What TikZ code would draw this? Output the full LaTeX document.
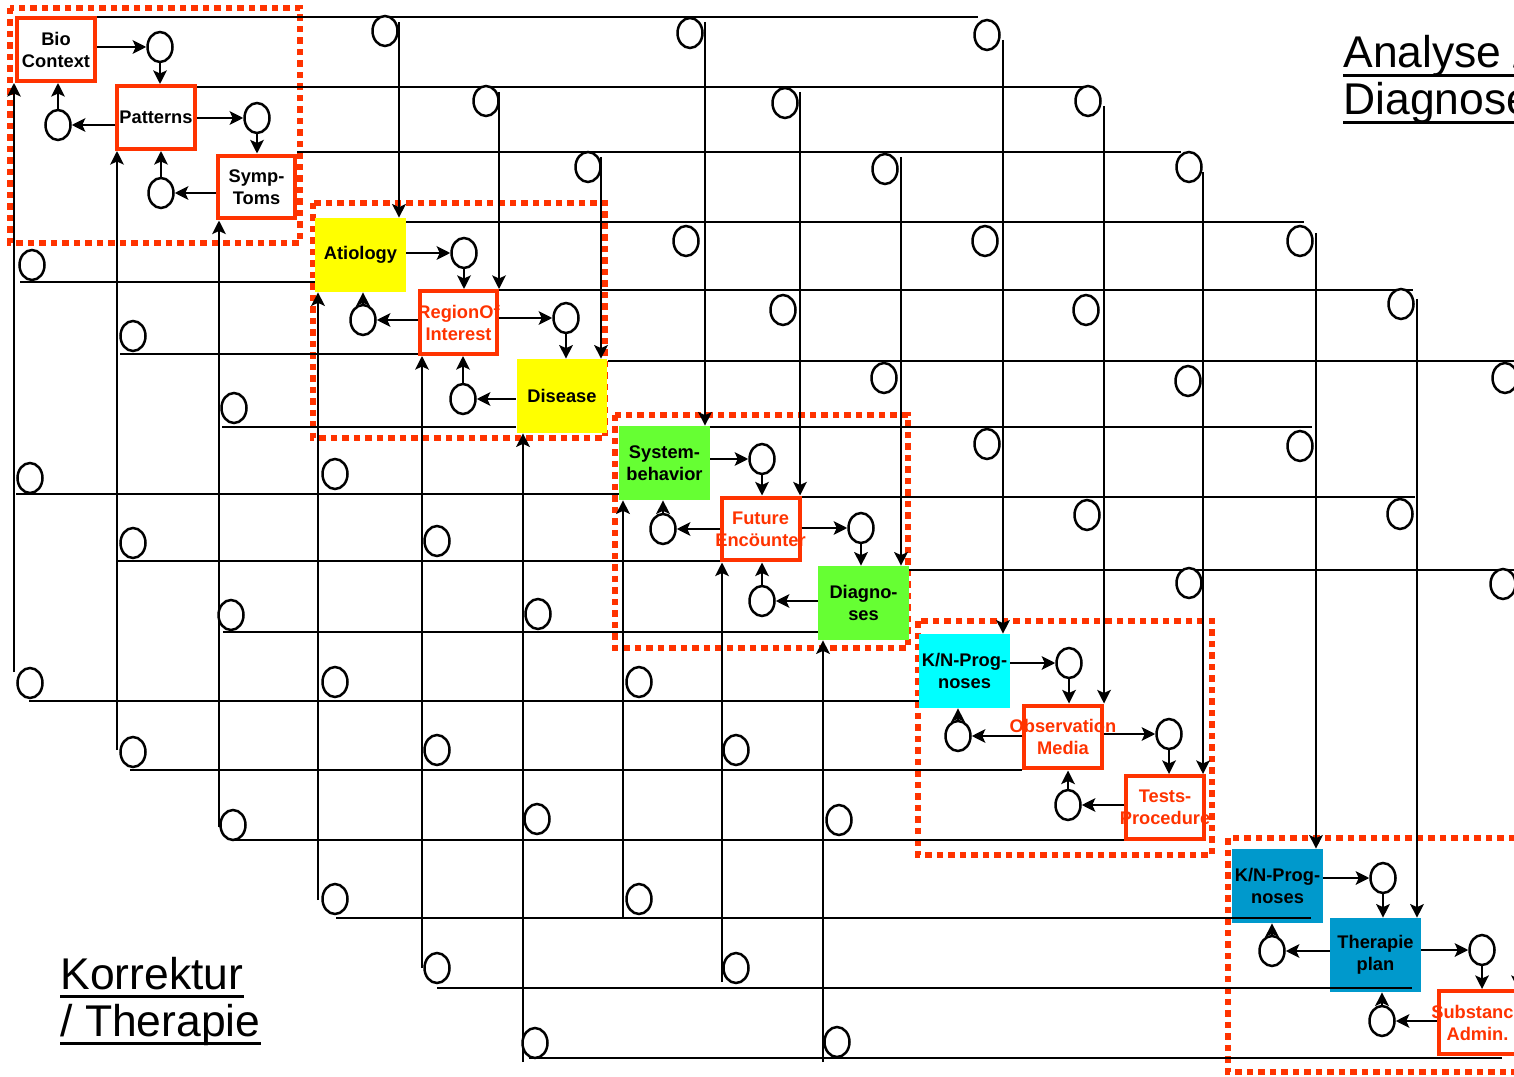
\documentclass[tikz,border=0pt]{standalone}
\usepackage{fontspec}
\setmainfont{Liberation Sans}
\usetikzlibrary{shapes.geometric, arrows.meta, positioning, calc}
\definecolor{myred}{RGB}{255,51,0}
\definecolor{myyellow}{RGB}{255,255,0}
\definecolor{mygreen}{RGB}{102,255,51}
\definecolor{mycyan}{RGB}{0,255,255}
\definecolor{myblue}{RGB}{0,153,204}
\newcommand{\boxfont}{\fontsize{10.4}{12.5}\selectfont\bfseries}
\newcommand{\titlefont}{\fontsize{25.3}{30}\selectfont}
\newcommand{\ctr}[1]{\makebox[0pt][c]{#1}}
\pgfdeclarelayer{bg}
\pgfsetlayers{bg,main}
\tikzset{
  redbox/.style={rectangle, draw=myred, fill=white, line width=0.08cm,
    text=myred, minimum width=1.56cm, minimum height=1.26cm,
    inner sep=0pt, align=center, font=\boxfont},
  colbox/.style={rectangle, minimum width=1.82cm, minimum height=1.48cm,
    inner sep=0pt, align=center, font=\boxfont},
  ring/.style={ellipse, draw, fill=white, line width=0.05cm,
    minimum width=0.5cm, minimum height=0.6cm, inner sep=0pt},
  arrow/.style={-{Stealth[length=0.27cm, width=0.27cm, inset=0.06cm]}, line width=0.052cm},
  wire/.style={line width=0.052cm},
  group/.style={draw=myred, line width=0.13cm, dash pattern=on 0.13cm off 0.1cm},
  title/.style={font=\titlefont, inner sep=0pt, anchor=base west},
  uline/.style={line width=0.06cm}
}

\begin{document}
\begin{tikzpicture}[x=0.02cm, y=-0.02cm]
  \useasboundingbox (0,0) rectangle (1514,1077);

  % Block 1
  \node[redbox, text=black] (bio) at (56,49.5) {Bio\\Context};
  \node[redbox, text=black] (pat) at (156,117.5) {Patterns};
  \node[redbox, text=black] (sym) at (256.5,187) {Symp-\\Toms};
  % Block 2
  \node[colbox, fill=myyellow] (ati) at (360.5,255) {Atiology};
  \node[redbox] (roi) at (458.5,322.5) {\ctr{RegionOf}\\\ctr{Interest}};
  \node[colbox, fill=myyellow] (dis) at (562,396) {Disease};
  % Block 3
  \node[colbox, fill=mygreen] (sys) at (664.5,463) {System-\\behavior};
  \node[redbox] (fut) at (760.5,529) {Future\\\ctr{Encöunter}};
  \node[colbox, fill=mygreen] (dia) at (863.5,603) {Diagno-\\ses};
  % Block 4
  \node[colbox, fill=mycyan] (kn4) at (964.5,671) {K/N-Prog-\\noses};
  \node[redbox] (obs) at (1063,737) {\ctr{Observation}\\Media};
  \node[redbox] (tes) at (1165,807.5) {Tests-\\\ctr{Procedure}};
  % Block 5
  \node[colbox, fill=myblue] (kn5) at (1277.5,886) {K/N-Prog-\\noses};
  \node[colbox, fill=myblue] (the) at (1375.5,955) {Therapie\\plan};
  \node[redbox] (sub) at (1477.5,1022.5) {\ctr{Substance}\\Admin.};

  \begin{pgfonlayer}{bg}
    % dotted frames round the blocks
    \draw[group] (10,8) rectangle (300,243);
    \draw[group] (313,203) rectangle (605,438);
    \draw[group] (615,415) rectangle (908,648);
    \draw[group] (918,621) rectangle (1212,855);
    \draw[group] (1228,838) rectangle (1540,1072);
    % Analyse lines
    \foreach \n/\y/\xb in {bio/17/978, pat/87/1085, sym/152/1181, ati/222/1304,
        roi/290/1413, dis/361/1530, sys/427/1312, fut/497/1415, dia/570/1530}
      \draw[wire] (\n.east |- 0,\y) -- (\xb,\y);
    % Korrektur lines
    \foreach \xa/\y/\n in {20/282/ati, 120/354/roi, 222/427/dis, 16/494/sys,
        118/561/fut, 223/632/dia, 29/701/kn4, 130/770/obs, 235/840/tes}
      \draw[wire] (\xa,\y) -- (\xa,\y -| \n.west);
  \end{pgfonlayer}

  % inside the blocks
  \foreach \a/\b/\c/\r/\pa/\pb/\pc/\pd in {
      bio/pat/sym/b1/{160,47}/{58,125}/{257,118}/{161,193},
      ati/roi/dis/b2/{464,253}/{363,320}/{566,318}/{463,399},
      sys/fut/dia/b3/{762,459}/{663,529}/{861,528}/{762,601},
      kn4/obs/tes/b4/{1069,663}/{958,736}/{1169,734}/{1068,805},
      kn5/the/sub/b5/{1383,878}/{1272,951}/{1482,950}/{1382,1021}} {
    \node[ring] (\r a) at (\pa) {};
    \node[ring] (\r b) at (\pb) {};
    \node[ring] (\r c) at (\pc) {};
    \node[ring] (\r d) at (\pd) {};
    \draw[arrow] (\a.east |- \r a) -- (\r a.west);
    \draw[arrow] (\r a.south) -- (\r a.south |- \b.north);
    \draw[arrow] (\b.west |- \r b) -- (\r b.east);
    \draw[arrow] (\r b.north) -- (\r b.north |- \a.south);
    \draw[arrow] (\b.east |- \r c) -- (\r c.west);
    \draw[arrow] (\r c.south) -- (\r c.south |- \c.north);
    \draw[arrow] (\c.west |- \r d) -- (\r d.east);
    \draw[arrow] (\r d.north) -- (\r d.north |- \b.south);
  }

  % down into later blocks
  \foreach \x/\ya/\n in {399/22/ati, 705/22/sys, 1003/40/kn4, 499/92/roi, 800/92/fut,
      1104/106/obs, 601/157/dis, 901/157/dia, 1203/172/tes, 1316/233/kn5,
      1417/299/the, 1518/370/sub}
    \draw[arrow] (\x,\ya) -- (\x,\ya |- \n.north);
  % up into earlier blocks
  \foreach \x/\yb/\n in {14/672/bio, 117/750/pat, 219/827/sym, 318/900/ati,
      422/968/roi, 523/1062/dis, 623/917/sys, 722/982/fut, 823/1062/dia}
    \draw[arrow] (\x,\yb) -- (\x,\yb |- \n.south);
  % Korrektur lines from block 5
  \foreach \xa/\y/\xb in {336/918/1311, 437/988/1412, 529/1058/1502}
    \draw[wire] (\xa,\y) -- (\xb,\y);

  % junctions
  \foreach \x/\y [count=\i] in {385/31, 690/33, 987/35, 486/101, 785/103, 1088/101,
      588/167, 885/169, 1189/167, 686/241, 985/241, 1300/241, 783/310, 1086/310,
      1401/304, 884/378, 1188/381, 1505/378, 987/444, 1300/446, 1087/515, 1400/514,
      1189/583, 1503/584, 32/265, 133/336, 234/408, 30/478, 335/474, 133/543,
      437/541, 231/615, 538/614, 30/683, 335/682, 639/682, 133/752, 437/750,
      736/750, 233/825, 537/819, 839/820, 335/899, 639/899, 437/968, 736/968,
      535/1043, 837/1042}
    \node[ring] (g\i) at (\x,\y) {};

  % titles
  \node[title] (ana1) at (1343,68) {Analyse /};
  \node[title] (ana2) at (1343,115) {Diagnose};
  \node[title] (kor1) at (60,989) {Korrektur};
  \node[title] (kor2) at (60,1036) {/ Therapie};
  \foreach \n in {ana1, ana2, kor1, kor2}
    \draw[uline] ([yshift=-0.15cm]\n.base west) -- ([yshift=-0.15cm]\n.base east);
\end{tikzpicture}
\end{document}
